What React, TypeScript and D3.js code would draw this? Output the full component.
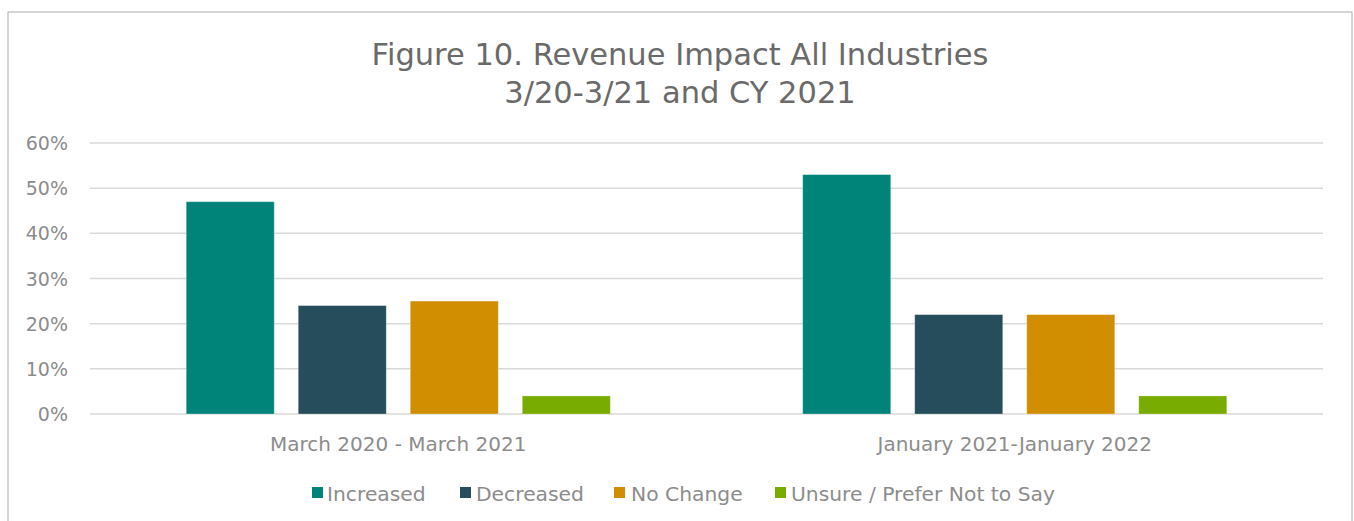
import React from "react";
import * as d3 from "d3";

const categories = ["March 2020 - March 2021", "January 2021-January 2022"];
const seriesNames = ["Increased", "Decreased", "No Change", "Unsure / Prefer Not to Say"];
const seriesColors = ["#00847A", "#254D5B", "#D08E00", "#79AC00"];
const increased = [47, 53];
const decreased = [24, 22];
const noChange = [25, 22];
const unsure = [4, 4];
const yTicks = [0, 10, 20, 30, 40, 50, 60];
const titleLines = ["Figure 10. Revenue Impact All Industries", "3/20-3/21 and CY 2021"];

const seriesValues = [increased, decreased, noChange, unsure];

const W = 1354;
const H = 521;
const plot = { left: 90, right: 1323, top: 143, bottom: 414 };
const FONT = "'DejaVu Sans', Verdana, sans-serif";

export default function App() {
  const x0 = d3.scaleBand<string>().domain(categories).range([plot.left, plot.right]).padding(0);
  const x1 = d3
    .scaleBand<string>()
    .domain(seriesNames)
    .range([0, x0.bandwidth()])
    .paddingInner(0.2143)
    .paddingOuter(0.859);
  const y = d3.scaleLinear().domain([0, 60]).range([plot.bottom, plot.top]);

  const legendItems = [
    { sq: 312, tx: 327 },
    { sq: 460, tx: 476 },
    { sq: 614, tx: 631 },
    { sq: 775, tx: 791 },
  ];

  return (
    <svg width={W} height={H} style={{ position: "absolute", left: 0, top: 0, background: "#fff" }}>
      <rect x={8} y={12} width={1344} height={H} fill="#fff" stroke="#bfbfbf" strokeWidth={1.3} />
      {titleLines.map((t, i) => (
        <text key={i} x={680} y={65 + i * 38} textAnchor="middle" fontFamily={FONT} fontSize={30.5} fill="#6a6a6a">
          {t}
        </text>
      ))}
      {yTicks.map((t) => (
        <g key={t}>
          <line x1={plot.left} x2={plot.right} y1={y(t)} y2={y(t)} stroke="#d9d9d9" strokeWidth={1.5} />
          <text x={68} y={y(t) + 7} textAnchor="end" fontFamily={FONT} fontSize={19} fill="#8c8c8c">
            {t}%
          </text>
        </g>
      ))}
      {categories.map((c, ci) => (
        <g key={c}>
          {seriesNames.map((s, si) => {
            const v = seriesValues[si][ci];
            return (
              <rect
                key={s}
                x={(x0(c) as number) + (x1(s) as number)}
                y={y(v)}
                width={x1.bandwidth()}
                height={y(0) - y(v)}
                fill={seriesColors[si]}
                stroke="rgba(255,255,255,0.35)"
                strokeWidth={0.8}
              />
            );
          })}
          <text x={(x0(c) as number) + x0.bandwidth() / 2} y={451} textAnchor="middle" fontFamily={FONT} fontSize={20} fill="#8c8c8c">
            {c}
          </text>
        </g>
      ))}
      {seriesNames.map((s, i) => (
        <g key={s}>
          <rect x={legendItems[i].sq} y={487} width={11} height={11} fill={seriesColors[i]} />
          <text x={legendItems[i].tx} y={500.5} fontFamily={FONT} fontSize={20.3} fill="#8c8c8c">
            {s}
          </text>
        </g>
      ))}
    </svg>
  );
}
